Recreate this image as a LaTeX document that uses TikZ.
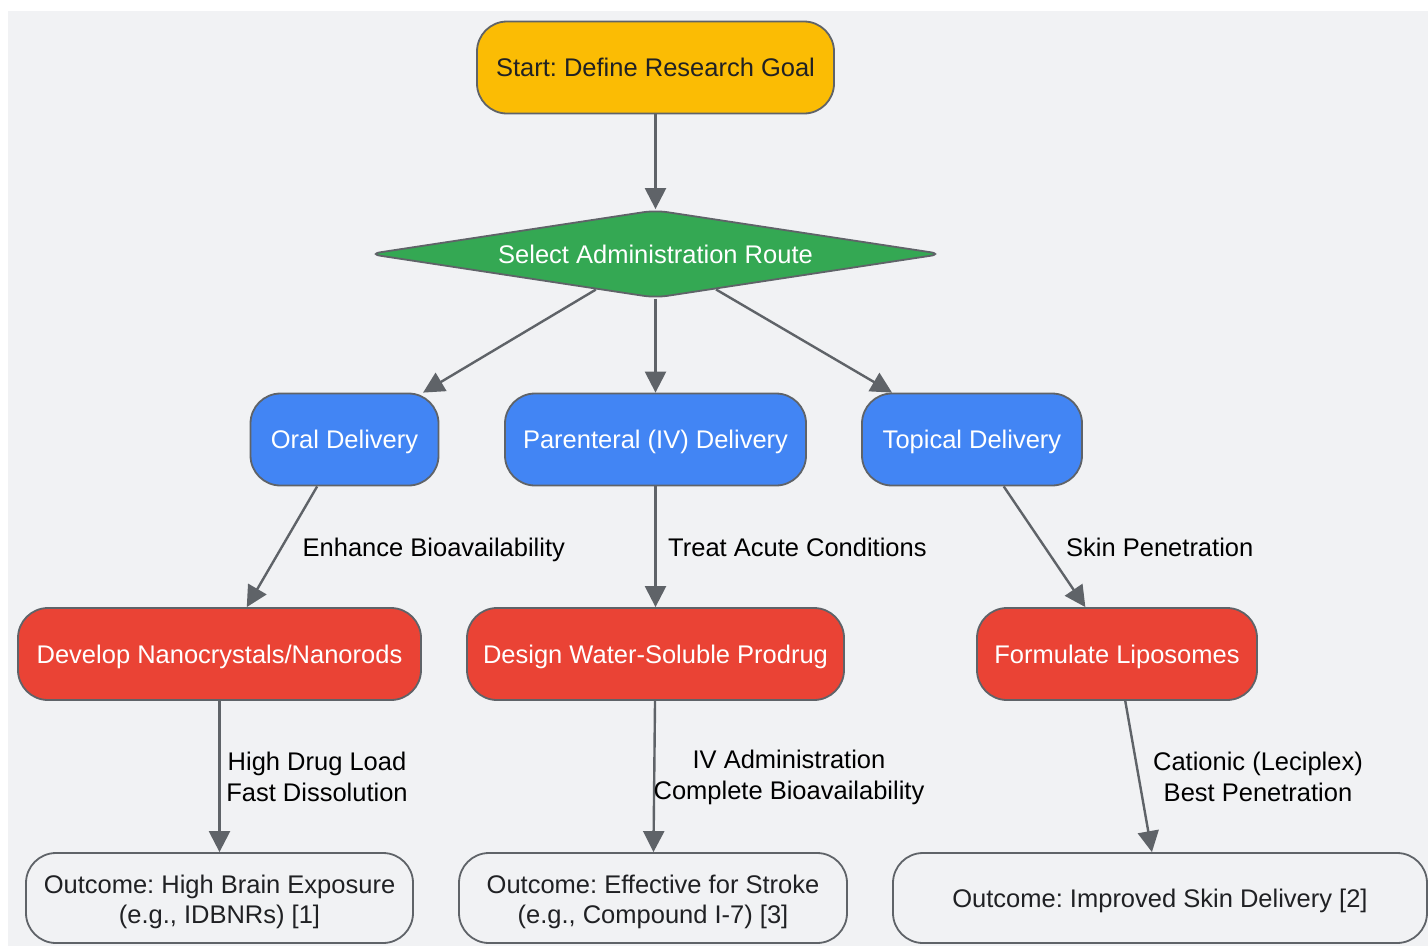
\documentclass[tikz,border=0pt]{standalone}
\usepackage{fontspec}
\setmainfont{Liberation Sans}
\usetikzlibrary{shapes.geometric,arrows.meta}
\definecolor{bgc}{HTML}{F1F2F4}
\definecolor{edgec}{HTML}{5F6368}
\definecolor{gyel}{HTML}{FBBC04}
\definecolor{ggreen}{HTML}{34A853}
\definecolor{gblue}{HTML}{4285F4}
\definecolor{gred}{HTML}{EA4335}
\definecolor{darktext}{HTML}{202124}
\newcommand{\topstrut}{\rule{0pt}{27pt}}
\tikzset{
  box/.style={draw=edgec, line width=1.8pt, rounded corners=30pt, inner sep=0pt,
    font=\fontsize{25.5}{30}\selectfont, align=center},
  oneline/.style={text height=18pt, text depth=0pt},
  startbox/.style={box, oneline, fill=gyel, text=darktext},
  routebox/.style={box, oneline, fill=gblue, text=white},
  actbox/.style={box, oneline, fill=gred, text=white},
  outbox/.style={box, fill=bgc, text=darktext},
  decbox/.style={shape=diamond, draw=edgec, line width=1.8pt, fill=ggreen, text=white,
    rounded corners=12pt, inner sep=0pt, aspect=6, oneline, font=\fontsize{25.5}{30}\selectfont},
  conn/.style={draw=edgec, line width=2.4pt, -{Triangle[length=21pt,width=21pt]}},
  lbl/.style={font=\fontsize{25.5}{31}\selectfont, text=black, inner sep=0pt, align=center}
}
\begin{document}
\frenchspacing
\begin{tikzpicture}[x=1pt,y=-1pt]
\useasboundingbox (0,0) rectangle (1428,946);
\fill[bgc] (8,11) rectangle (1428,946);

\node[startbox, minimum width=357pt, minimum height=92pt] (start) at (655.5,67.5) {Start: Define Research Goal};
\node[decbox, minimum width=574pt, minimum height=88pt] (dec) at (655.5,254) {Select Administration Route};

\node[routebox, minimum width=188pt, minimum height=92pt] (oral) at (344.5,439.5) {Oral Delivery};
\node[routebox, minimum width=301pt, minimum height=92pt] (iv) at (655.5,439.5) {Parenteral (IV) Delivery};
\node[routebox, minimum width=220pt, minimum height=92pt] (top) at (972,439.5) {Topical Delivery};

\node[actbox, minimum width=403pt, minimum height=92pt] (nano) at (219.5,654) {Develop Nanocrystals/Nanorods};
\node[actbox, minimum width=377pt, minimum height=92pt] (pro) at (655.5,654) {Design Water-Soluble Prodrug};
\node[actbox, minimum width=280pt, minimum height=92pt] (lip) at (1117,654) {Formulate Liposomes};

\node[outbox, minimum width=387pt, minimum height=90pt] (o1) at (219.5,898) {\topstrut Outcome: High Brain Exposure\\(e.g., IDBNRs) [1]};
\node[outbox, minimum width=388pt, minimum height=90pt] (o2) at (653,898) {\topstrut Outcome: Effective for Stroke\\(e.g., Compound I-7) [3]};
\node[outbox, oneline, minimum width=534pt, minimum height=90pt] (o3) at (1160,898) {Outcome: Improved Skin Delivery [2]};

\draw[conn] (start) -- (dec);
\draw[conn] (dec) -- (oral);
\draw[conn] (dec) -- (iv);
\draw[conn] (dec) -- (top);
\draw[conn] (oral) -- (nano);
\draw[conn] (iv) -- (pro);
\draw[conn] (top) -- (lip);
\draw[conn] (nano) -- (o1);
\draw[conn] (pro) -- (o2);
\draw[conn] (lip) -- (o3);

\node[lbl, anchor=base west] (l1) at (302.5,556) {Enhance Bioavailability};
\node[lbl, anchor=base west] (l2) at (668,556) {Treat Acute Conditions};
\node[lbl, anchor=base west] (l3) at (1066,556) {Skin Penetration};
\node[lbl] (l4) at (317,777) {High Drug Load\\Fast Dissolution};
\node[lbl] (l5) at (789,777) {IV Administration\\Complete Bioavailability};
\node[lbl] (l6) at (1258,777) {Cationic (Leciplex)\\Best Penetration};
\end{tikzpicture}
\end{document}
